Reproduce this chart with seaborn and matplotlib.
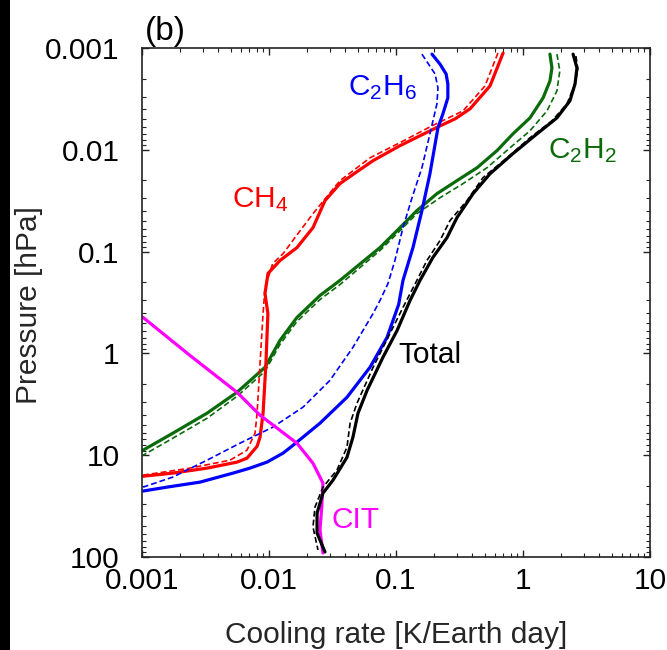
import numpy as np
import pandas as pd
import matplotlib
matplotlib.use("Agg")
import matplotlib.pyplot as plt
import seaborn as sns
from matplotlib.ticker import FuncFormatter, LogLocator, NullFormatter
from matplotlib.patches import Rectangle

# ---------------- data (cooling rate [K/Earth day] vs pressure [hPa]) ----------------
ch4_p = [0.00112, 0.00236, 0.00396, 0.00497, 0.00596, 0.00914, 0.0128, 0.0165, 0.0215,
         0.0316, 0.0582, 0.0914, 0.1225, 0.164, 0.258, 0.406, 1.25, 3.87, 6.66, 8.17,
         10.7, 11.7, 13.4, 15.0, 16.1]
ch4_solid = [0.697, 0.55, 0.383, 0.292, 0.214, 0.107, 0.0659, 0.049, 0.0362, 0.0276,
             0.0222, 0.0166, 0.0122, 0.00982, 0.0093, 0.0098, 0.00946, 0.00898, 0.0085,
             0.00806, 0.00671, 0.0056, 0.00325, 0.00175, 0.00102]
ch4_dash_p = [0.00112, 0.00236, 0.00415, 0.00582, 0.00853, 0.012, 0.0201, 0.0424, 0.073,
              0.105, 0.131, 0.225, 0.406, 1.25, 3.87, 6.08, 8.93, 11.2, 13.4, 15.7]
ch4_dash = [0.635, 0.502, 0.337, 0.192, 0.107, 0.0624, 0.0362, 0.0222, 0.016,
            0.0129, 0.0107, 0.0093, 0.00898, 0.0085, 0.00806, 0.00776, 0.00671, 0.00493,
            0.00239, 0.00102]

c2h6_p = [0.00115, 0.00144, 0.0018, 0.00225, 0.00309, 0.00444, 0.00608, 0.0172, 0.0396,
          0.0914, 0.192, 0.33, 0.697, 1.37, 2.70, 4.85, 7.98, 9.55, 11.7, 13.4, 15.0,
          18.4, 20.6, 22.5]
c2h6_solid = [0.192, 0.222, 0.248, 0.256, 0.256, 0.234, 0.214, 0.185, 0.160, 0.136,
              0.1135, 0.105, 0.085, 0.0624, 0.0411, 0.0252, 0.0155, 0.0129, 0.00964,
              0.00708, 0.00521, 0.00286, 0.00157, 0.00102]
c2h6_dash_p = [0.00115, 0.0018, 0.00247, 0.00354, 0.00697, 0.015, 0.0296, 0.0582, 0.1225,
               0.206, 0.302, 0.406, 0.873, 1.84, 3.38, 5.31, 7.63, 11.2, 16.4, 20.6]
c2h6_dash = [0.160, 0.203, 0.214, 0.21, 0.185, 0.160, 0.1337, 0.1135, 0.098,
             0.0865, 0.0748, 0.066, 0.0458, 0.0302, 0.0185, 0.0107, 0.0059, 0.00325,
             0.00175, 0.00102]

c2h2_p = [0.00115, 0.00157, 0.00211, 0.00309, 0.00486, 0.00697, 0.0102, 0.015, 0.0201,
          0.027, 0.0396, 0.0622, 0.0914, 0.192, 0.27, 0.444, 0.746, 1.37, 2.41, 3.87,
          6.08, 8.93]
c2h2_solid = [1.63, 1.69, 1.63, 1.44, 1.135, 0.834, 0.624, 0.435, 0.302,
              0.21, 0.146, 0.102, 0.0748, 0.0362, 0.0252, 0.0166, 0.0122, 0.0093, 0.0056,
              0.00325, 0.00175, 0.00102]
c2h2_dash_p = [0.00115, 0.00168, 0.00264, 0.00415, 0.00651, 0.00955, 0.015, 0.0215, 0.0296,
               0.0424, 0.0666, 0.0977, 0.211, 0.296, 0.486, 0.817, 1.50, 2.64, 4.34,
               6.81, 10.0]
c2h2_dash = [1.85, 1.95, 1.85, 1.545, 1.135, 0.791, 0.521, 0.337, 0.222,
             0.146, 0.102, 0.0748, 0.0362, 0.0252, 0.0166, 0.0122, 0.0093, 0.0056, 0.00325,
             0.00175, 0.00102]

total_p = [0.00115, 0.00157, 0.00225, 0.00331, 0.00486, 0.00697, 0.0109, 0.0172, 0.027,
           0.0464, 0.073, 0.1145, 0.192, 0.302, 0.596, 1.09, 2.31, 3.87, 6.66, 10.5,
           17.6, 23.6, 37.1, 58.2, 89.3]
total_solid = [2.48, 2.66, 2.57, 2.34, 1.85, 1.29, 0.834, 0.55, 0.404,
               0.302, 0.252, 0.195, 0.1545, 0.129, 0.102, 0.079, 0.0592, 0.0502, 0.0458,
               0.0411, 0.0319, 0.0266, 0.0239, 0.0239, 0.0276]
total_dash_p = [0.0012, 0.0016, 0.00225, 0.00354, 0.0052, 0.00762, 0.012, 0.0188, 0.0316,
                0.0497, 0.078, 0.1225, 0.192, 0.354, 0.637, 1.37, 3.09, 4.85, 8.36, 14.0,
                20.6, 32.4, 50.8, 85.3]
total_dash = [2.61, 2.7, 2.57, 2.22, 1.69, 1.135, 0.748, 0.484, 0.362,
              0.266, 0.222, 0.175, 0.146, 0.1135, 0.0897, 0.066, 0.0493, 0.0435, 0.0411,
              0.0343, 0.0266, 0.023, 0.0222, 0.0243]

cit_p = [0.444, 1.05, 2.41, 4.05, 7.63, 12.0, 18.8, 32.4, 54.3, 91.4]
cit_solid = [0.00102, 0.00239, 0.0056, 0.0085, 0.0166, 0.0222, 0.0266, 0.026, 0.0252, 0.0266]

x_ticks = [0.001, 0.01, 0.1, 1, 10]
y_ticks = [0.001, 0.01, 0.1, 1, 10, 100]

RED, BLUE, GREEN, BLACK, MAG = "#ff0000", "#0000ff", "#0b6b0b", "#000000", "#ff00ff"

# ---------------- style ----------------
sns.set_style("ticks")
plt.rcParams["font.family"] = ["Liberation Sans", "DejaVu Sans"]
plt.rcParams["mathtext.fontset"] = "custom"
plt.rcParams["mathtext.rm"] = "Liberation Sans"
plt.rcParams["mathtext.it"] = "Liberation Sans:italic"
plt.rcParams["mathtext.bf"] = "Liberation Sans:bold"

fig = plt.figure(figsize=(6.67, 6.5), dpi=100)
fig.patch.set_facecolor("white")
ax = fig.add_axes([0.2129, 0.1431, 0.7616, 0.7831])

SOLID_LW = 2.3
DASH_LW = 1.2
DASH = (0, (3.5, 1.8))

series = [
    (c2h2_solid, c2h2_p, GREEN, "-"), (c2h2_dash, c2h2_dash_p, GREEN, DASH),
    (ch4_solid, ch4_p, RED, "-"), (ch4_dash, ch4_dash_p, RED, DASH),
    (c2h6_solid, c2h6_p, BLUE, "-"), (c2h6_dash, c2h6_dash_p, BLUE, DASH),
    (cit_solid, cit_p, MAG, "-"),
    (total_solid, total_p, BLACK, "-"), (total_dash, total_dash_p, BLACK, DASH),
]
for xs, ps, col, ls in series:
    df = pd.DataFrame({"rate": xs, "pressure": ps})
    sns.lineplot(data=df, x="rate", y="pressure", sort=False, estimator=None,
                 color=col, linestyle=ls,
                 linewidth=SOLID_LW if ls == "-" else DASH_LW,
                 legend=False, ax=ax)

ax.set_xscale("log")
ax.set_yscale("log")
ax.set_xlim(x_ticks[0], x_ticks[-1])
ax.set_ylim(y_ticks[-1], y_ticks[0])
ax.set_xticks(x_ticks)
ax.set_yticks(y_ticks)
fmt = FuncFormatter(lambda v, _: f"{v:g}")
ax.xaxis.set_major_formatter(fmt)
ax.yaxis.set_major_formatter(fmt)
ax.xaxis.set_minor_locator(LogLocator(base=10, subs=np.arange(2, 10)))
ax.yaxis.set_minor_locator(LogLocator(base=10, subs=np.arange(2, 10)))
ax.xaxis.set_minor_formatter(NullFormatter())
ax.yaxis.set_minor_formatter(NullFormatter())

ax.tick_params(which="both", direction="in", top=True, right=True,
               colors="#222222", labelcolor="black")
ax.tick_params(which="major", length=5, width=1.0, labelsize=21.5)
ax.tick_params(which="minor", length=3, width=0.8)
ax.tick_params(axis="x", which="major", pad=7)
ax.tick_params(axis="y", which="major", pad=16)
for s in ax.spines.values():
    s.set_linewidth(1.2)
    s.set_color("#222222")

ax.set_xlabel("Cooling rate [K/Earth day]", fontsize=21.5)
ax.set_ylabel("Pressure [hPa]", fontsize=21.5)
ax.xaxis.set_label_coords(0.5, -0.125)
ax.yaxis.set_label_coords(-0.195, 0.495)

kw = dict(transform=ax.transAxes, fontsize=21.5, ha="left", va="baseline")
ax.text(0.177, 0.688, "CH$_4$", color=RED, **kw)
ax.text(0.406, 0.908, "C$_2$H$_6$", color=BLUE, **kw)
ax.text(0.799, 0.784, "C$_2$H$_2$", color=GREEN, **kw)
ax.text(0.504, 0.381, "Total", color=BLACK, **kw)
ax.text(0.374, 0.057, "CIT", color=MAG, **kw)
ax.text(0.006, 1.016, "(b)", transform=ax.transAxes, fontsize=24, ha="left",
        va="baseline", color="black")

fig.add_artist(Rectangle((0, 0), 10 / 667, 1, transform=fig.transFigure,
                         facecolor="black", edgecolor="none", zorder=10))

fig.savefig("out.png", dpi=100)
